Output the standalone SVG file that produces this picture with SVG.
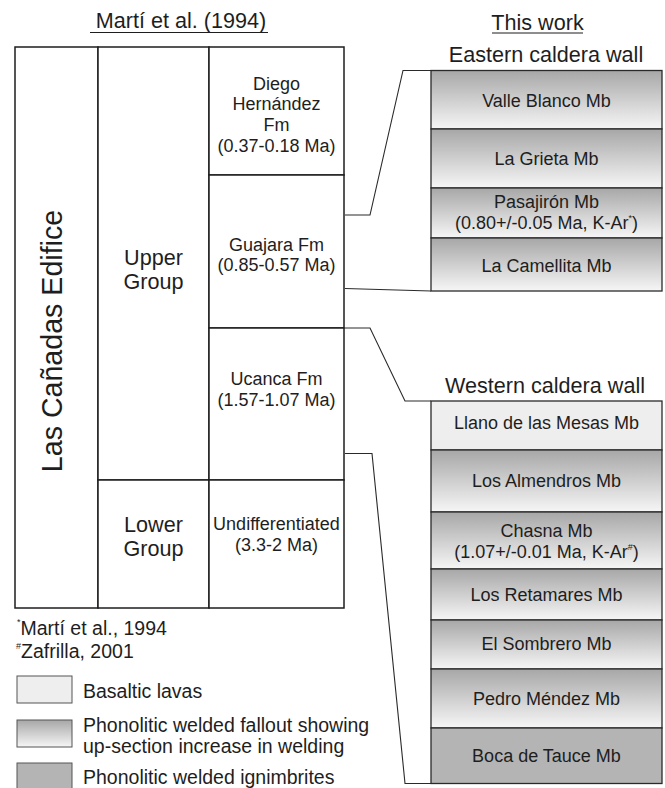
<svg xmlns="http://www.w3.org/2000/svg" width="665" height="788" viewBox="0 0 665 788">
<defs>
<linearGradient id="weld" x1="0" y1="0" x2="0" y2="1">
<stop offset="0" stop-color="#a7a7a7"/>
<stop offset="1" stop-color="#f6f6f6"/>
</linearGradient>
<style>
text{font-family:"Liberation Sans",Arial,Helvetica,sans-serif;fill:#1e1e1e;text-anchor:middle}
.cell{fill:#fff;stroke:#1e1e1e;stroke-width:1.5}
.mb{stroke:#2a2a2a;stroke-width:1.3}
.weld{fill:url(#weld)}
.bas{fill:#eeeeee}
.ign{fill:#b4b4b4}
.t18{font-size:18px}
.t22{font-size:21.6px}
.t195{font-size:19.5px;text-anchor:start}
.sup{font-size:9px}
.conn{fill:none;stroke:#2a2a2a;stroke-width:1.1}
.ul{stroke:#1e1e1e;stroke-width:1.2}
.lg{stroke:#555;stroke-width:1}
</style>
</defs>

<g id="headers">
<text class="t22" x="181" y="28">Martí et al. (1994)</text>
<line class="ul" x1="90" y1="32.5" x2="268" y2="32.5"/>
<text class="t22" x="537.5" y="30">This work</text>
<line class="ul" x1="492" y1="33" x2="583" y2="33"/>
<text class="t22" x="546" y="62">Eastern caldera wall</text>
<text class="t22" x="545" y="393">Western caldera wall</text>
</g>

<g id="edifice">
<rect class="cell" x="15" y="47" width="83" height="561"/>
<text transform="translate(62,341) rotate(-90)" style="font-size:28.6px">Las Cañadas Edifice</text>
</g>
<g id="upper-group">
<rect class="cell" x="98" y="47" width="111" height="433"/>
<text class="t22" x="153.5" y="265">Upper</text>
<text class="t22" x="153.5" y="289">Group</text>
</g>
<g id="lower-group">
<rect class="cell" x="98" y="480" width="111" height="128"/>
<text class="t22" x="153.5" y="532">Lower</text>
<text class="t22" x="153.5" y="556">Group</text>
</g>
<g id="diego-hernandez">
<rect class="cell" x="209" y="47" width="135" height="128"/>
<text class="t18" x="276.5" y="89.5">Diego</text>
<text class="t18" x="276.5" y="110.2">Hernández</text>
<text class="t18" x="276.5" y="130.9">Fm</text>
<text class="t18" x="276.5" y="151.6">(0.37-0.18 Ma)</text>
</g>
<g id="guajara">
<rect class="cell" x="209" y="175" width="135" height="153"/>
<text class="t18" x="276.5" y="250.5">Guajara Fm</text>
<text class="t18" x="276.5" y="271">(0.85-0.57 Ma)</text>
</g>
<g id="ucanca">
<rect class="cell" x="209" y="328" width="135" height="152"/>
<text class="t18" x="276.5" y="385">Ucanca Fm</text>
<text class="t18" x="276.5" y="406">(1.57-1.07 Ma)</text>
</g>
<g id="undifferentiated">
<rect class="cell" x="209" y="480" width="135" height="128"/>
<text class="t18" x="276.5" y="530">Undifferentiated</text>
<text class="t18" x="276.5" y="551">(3.3-2 Ma)</text>
</g>

<g id="connectors">
<polyline class="conn" points="345,215 370,215 403,70.5 431,70.5"/>
<polyline class="conn" points="345,288.5 431,291"/>
<polyline class="conn" points="345,328 370,328 405,401 431,401"/>
<polyline class="conn" points="345,453.5 372,453.5 405,783.5 431,783.5"/>
</g>

<g id="valle-blanco">
<rect class="mb weld" x="431" y="70.5" width="231" height="58.5"/>
<text class="t18" x="546.5" y="106.5">Valle Blanco Mb</text>
</g>
<g id="la-grieta">
<rect class="mb weld" x="431" y="129" width="231" height="59"/>
<text class="t18" x="546.5" y="165">La Grieta Mb</text>
</g>
<g id="pasajiron">
<rect class="mb weld" x="431" y="188" width="231" height="50"/>
<text class="t18" x="546.5" y="207.5">Pasajirón Mb</text>
<text class="t18" x="546.5" y="228.5">(0.80+/-0.05 Ma, K-Ar<tspan class="sup" dy="-8">*</tspan><tspan dy="8">)</tspan></text>
</g>
<g id="la-camellita">
<rect class="mb weld" x="431" y="238" width="231" height="53"/>
<text class="t18" x="546.5" y="271.5">La Camellita Mb</text>
</g>

<g id="llano-de-las-mesas">
<rect class="mb bas" x="431" y="401" width="231" height="49"/>
<text class="t18" x="546.5" y="428.5">Llano de las Mesas Mb</text>
</g>
<g id="los-almendros">
<rect class="mb weld" x="431" y="450" width="231" height="62"/>
<text class="t18" x="546.5" y="487">Los Almendros Mb</text>
</g>
<g id="chasna">
<rect class="mb weld" x="431" y="512" width="231" height="57"/>
<text class="t18" x="546.5" y="537">Chasna Mb</text>
<text class="t18" x="546.5" y="558">(1.07+/-0.01 Ma, K-Ar<tspan class="sup" dy="-8">#</tspan><tspan dy="8">)</tspan></text>
</g>
<g id="los-retamares">
<rect class="mb weld" x="431" y="569" width="231" height="51"/>
<text class="t18" x="546.5" y="600.5">Los Retamares Mb</text>
</g>
<g id="el-sombrero">
<rect class="mb weld" x="431" y="620" width="231" height="49"/>
<text class="t18" x="546.5" y="649.5">El Sombrero Mb</text>
</g>
<g id="pedro-mendez">
<rect class="mb weld" x="431" y="669" width="231" height="59"/>
<text class="t18" x="546.5" y="705">Pedro Méndez Mb</text>
</g>
<g id="boca-de-tauce">
<rect class="mb ign" x="431" y="728" width="231" height="55.5"/>
<text class="t18" x="546.5" y="762">Boca de Tauce Mb</text>
</g>

<g id="footnotes">
<text class="t195" x="17" y="635"><tspan class="sup" dy="-10">*</tspan><tspan dy="10">Martí et al., 1994</tspan></text>
<text class="t195" x="16" y="658"><tspan class="sup" dy="-9">#</tspan><tspan dy="9">Zafrilla, 2001</tspan></text>
</g>

<g id="legend">
<rect class="lg bas" x="17" y="676" width="55" height="27"/>
<text class="t195" x="83" y="698">Basaltic lavas</text>
<rect class="lg weld" x="17" y="720" width="55" height="27"/>
<text class="t195" x="83" y="731.5">Phonolitic welded fallout showing</text>
<text class="t195" x="83" y="753">up-section increase in welding</text>
<rect class="lg ign" x="17" y="763" width="55" height="30"/>
<text class="t195" x="83" y="784">Phonolitic welded ignimbrites</text>
</g>
</svg>
